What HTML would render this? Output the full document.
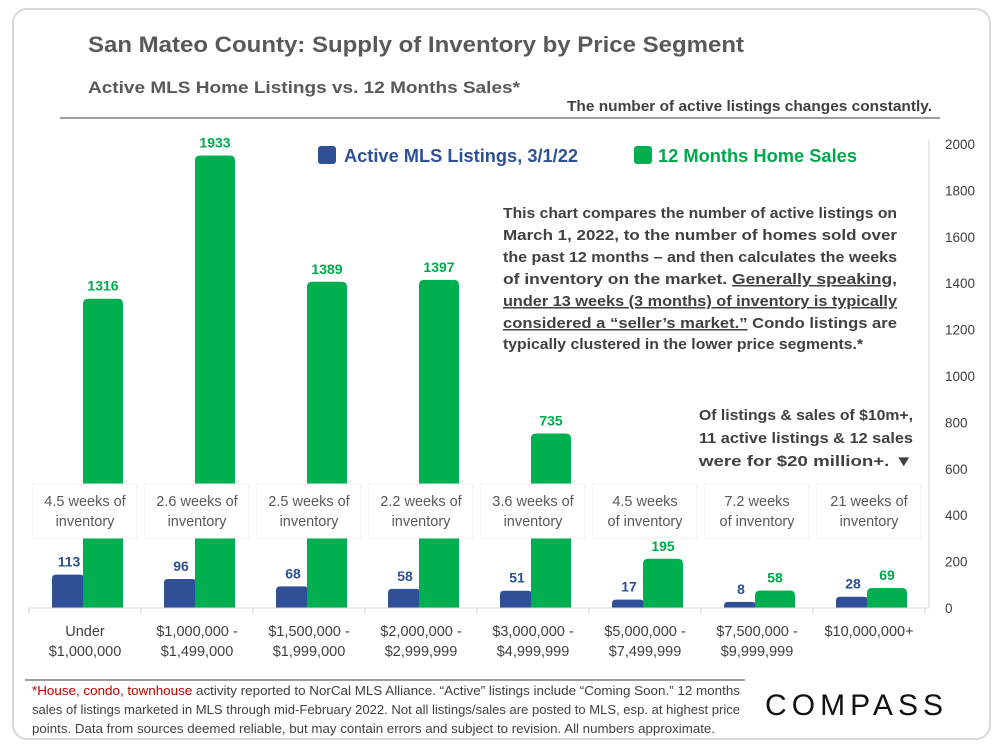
<!DOCTYPE html>
<html><head><meta charset="utf-8"><style>
html,body{margin:0;padding:0;background:#fff;}
svg{display:block;font-family:"Liberation Sans",sans-serif;}
</style></head><body>
<svg id="chart" width="1000" height="750" viewBox="0 0 1000 750">
<rect x="13" y="9" width="977" height="730" rx="14" fill="#fff" stroke="#d9d9d9" stroke-width="2"/>
<text x="88" y="52" font-size="22" font-weight="bold" fill="#595959" textLength="656" lengthAdjust="spacingAndGlyphs">San Mateo County: Supply of Inventory by Price Segment</text>
<text x="88" y="93" font-size="17" font-weight="bold" fill="#595959" textLength="432" lengthAdjust="spacingAndGlyphs">Active MLS Home Listings vs. 12 Months Sales*</text>
<text x="932" y="111" font-size="14.5" font-weight="bold" fill="#404040" text-anchor="end" textLength="365" lengthAdjust="spacingAndGlyphs">The number of active listings changes constantly.</text>
<line x1="60" y1="118" x2="940" y2="118" stroke="#7f7f7f" stroke-width="1.5"/>
<line x1="929" y1="140" x2="929" y2="608" stroke="#d9d9d9"/>
<g id="bars"></g>
<g id="boxes"></g>
<g id="labels"></g>
<g id="axis"></g>
<rect x="318" y="146" width="18" height="18" rx="3" fill="#2F5097"/>
<text x="344" y="162" font-size="18" font-weight="bold" fill="#2F5097" textLength="234" lengthAdjust="spacingAndGlyphs">Active MLS Listings, 3/1/22</text>
<rect x="634" y="146" width="18" height="18" rx="3" fill="#00B050"/>
<text x="658" y="162" font-size="18" font-weight="bold" fill="#00A84C" textLength="199" lengthAdjust="spacingAndGlyphs">12 Months Home Sales</text>
<g font-size="15" font-weight="bold" fill="#404040">
<text x="503" y="218" textLength="394" lengthAdjust="spacingAndGlyphs">This chart compares the number of active listings on</text>
<text x="503" y="240" textLength="394" lengthAdjust="spacingAndGlyphs">March 1, 2022, to the number of homes sold over</text>
<text x="503" y="262" textLength="394" lengthAdjust="spacingAndGlyphs">the past 12 months – and then calculates the weeks</text>
<text x="503" y="284" textLength="394" lengthAdjust="spacingAndGlyphs">of inventory on the market. <tspan text-decoration="underline">Generally speaking,</tspan></text>
<text x="503" y="306" textLength="394" lengthAdjust="spacingAndGlyphs" text-decoration="underline">under 13 weeks (3 months) of inventory is typically</text>
<text x="503" y="328" textLength="394" lengthAdjust="spacingAndGlyphs"><tspan text-decoration="underline">considered a “seller’s market.”</tspan> Condo listings are</text>
<text x="503" y="349" textLength="360" lengthAdjust="spacingAndGlyphs">typically clustered in the lower price segments.*</text>
</g>
<g font-size="15" font-weight="bold" fill="#404040" text-anchor="end">
<text x="913" y="420" textLength="214" lengthAdjust="spacingAndGlyphs">Of listings &amp; sales of $10m+,</text>
<text x="913" y="443" textLength="214" lengthAdjust="spacingAndGlyphs">11 active listings &amp; 12 sales</text>
<text x="913" y="466" textLength="214" lengthAdjust="spacingAndGlyphs">were for $20 million+. ▼</text>
</g>
<line x1="25" y1="680" x2="745" y2="680" stroke="#7f7f7f" stroke-width="1.5"/>
<g font-size="12.5" fill="#404040">
<text x="32" y="695" textLength="708" lengthAdjust="spacingAndGlyphs"><tspan fill="#c00000">*House, condo, townhouse</tspan> activity reported to NorCal MLS Alliance. “Active” listings include “Coming Soon.” 12 months</text>
<text x="32" y="714" textLength="708" lengthAdjust="spacingAndGlyphs">sales of listings marketed in MLS through mid-February 2022. Not all listings/sales are posted to MLS, esp. at highest price</text>
<text x="32" y="733" textLength="683" lengthAdjust="spacingAndGlyphs">points. Data from sources deemed reliable, but may contain errors and subject to revision.  All numbers approximate.</text>
</g>
<text x="765" y="715" font-size="30" fill="#111" letter-spacing="3" textLength="181" lengthAdjust="spacing">COMPASS</text>
</svg>
<script>
const categories1 = ["Under","$1,000,000 -","$1,500,000 -","$2,000,000 -","$3,000,000 -","$5,000,000 -","$7,500,000 -","$10,000,000+"];
const categories2 = ["$1,000,000","$1,499,000","$1,999,000","$2,999,999","$4,999,999","$7,499,999","$9,999,999",""];
const activeListings = [113,96,68,58,51,17,8,28];
const homeSales = [1316,1933,1389,1397,735,195,58,69];
const weeksLine1 = ["4.5 weeks of","2.6 weeks of","2.5 weeks of","2.2 weeks of","3.6 weeks of","4.5 weeks","7.2 weeks","21 weeks of"];
const weeksLine2 = ["inventory","inventory","inventory","inventory","inventory","of inventory","of inventory","inventory"];
const yTicks = [0,200,400,600,800,1000,1200,1400,1600,1800,2000];

const NS = "http://www.w3.org/2000/svg";
const plotL = 29, plotR = 925, y0 = 608, y1 = 144, yMax = 2000;
const band = (plotR - plotL) / categories1.length;
const xc = i => plotL + band * (i + 0.5);
const ys = v => y0 - 4 - (v / yMax) * (y0 - y1);
const ysA = v => y0 - 4 - v * 0.26;
function mk(tag, attrs, parent, txt){ const e=document.createElementNS(NS,tag); for(const k in attrs) e.setAttribute(k,attrs[k]); if(txt!==undefined) e.textContent=txt; parent.appendChild(e); return e; }
function topRounded(x,y,w,h,r){ r=Math.min(r,h,w/2); return `M${x},${y+h}V${y+r}Q${x},${y} ${x+r},${y}H${x+w-r}Q${x+w},${y} ${x+w},${y+r}V${y+h}Z`; }
const gb=document.getElementById('bars'), gx=document.getElementById('boxes'), gl=document.getElementById('labels'), ga=document.getElementById('axis');

homeSales.forEach((v,i)=>{
  const c=xc(i);
  const a=activeListings[i];
  const pb=mk('path',{d:topRounded(c-33,ysA(a),32,y0-ysA(a),4),fill:'#2F5097'},gb);
  
  
  const pg=mk('path',{d:topRounded(c-2,ys(v),40,y0-ys(v),5),fill:'#00B050'},gb);
  
  
  const ta=mk('text',{x:c-16,y:ysA(a)-8,'font-size':14,'font-weight':'bold',fill:'#2F5097','text-anchor':'middle'},gl,String(a));
  
  
  const tg=mk('text',{x:c+18,y:ys(v)-8,'font-size':14,'font-weight':'bold',fill:'#00A84C','text-anchor':'middle'},gl,String(v));
  
  
  const bx=mk('rect',{x:c-52,y:484,width:104,height:54,fill:'#fff',stroke:'#f0f0f0'},gx);
  
  
  const w1=mk('text',{x:c,y:506,'font-size':14.5,fill:'#595959','text-anchor':'middle'},gx,weeksLine1[i]);
  
  
  const w2=mk('text',{x:c,y:526,'font-size':14.5,fill:'#595959','text-anchor':'middle'},gx,weeksLine2[i]);
  
  
  const l1=mk('text',{x:c,y:636,'font-size':14.5,fill:'#404040','text-anchor':'middle'},ga,categories1[i]);
  
  
  const l2=mk('text',{x:c,y:656,'font-size':14.5,fill:'#404040','text-anchor':'middle'},ga,categories2[i]);
  
  
});
const base=mk('line',{x1:plotL,y1:y0,x2:plotR+4,y2:y0,stroke:'#d9d9d9'},ga);


for(let i=0;i<=categories1.length;i++){
  const t=mk('line',{x1:plotL+band*i,y1:y0,x2:plotL+band*i,y2:y0+6,stroke:'#d9d9d9'},ga);
  
  
}
yTicks.forEach(v=>{
  const t=mk('text',{x:945,y:y0-(v/yMax)*(y0-y1)+5,'font-size':13.5,fill:'#404040'},ga,String(v));
  
  
});
</script>
</body></html>
